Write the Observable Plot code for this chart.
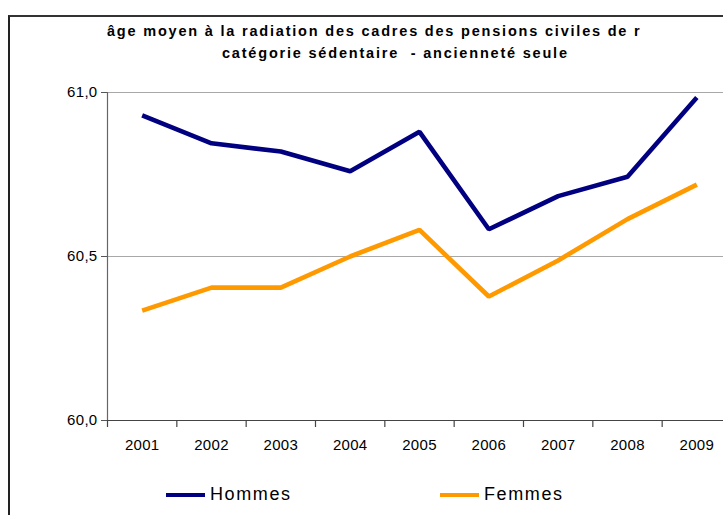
<!DOCTYPE html>
<html>
<head>
<meta charset="utf-8">
<script src="https://cdn.jsdelivr.net/npm/d3@7"></script>
<script src="https://cdn.jsdelivr.net/npm/@observablehq/plot@0.6"></script>
<style>
  html, body { margin: 0; padding: 0; background: #fff; overflow: hidden; }
  #wrap { position: relative; width: 723px; height: 515px; overflow: hidden; font-family: "Liberation Sans", Arial, sans-serif; }
  #frame { position: absolute; left: 8px; top: 15px; width: 900px; height: 700px; border-left: 2px solid #222; border-top: 2px solid #333; }
  .title { position: absolute; font-weight: bold; font-size: 14.5px; letter-spacing: 1.8px; white-space: pre; color: #000; }
  #chart { position: absolute; left: 0; top: 0; }
  .leg { position: absolute; top: 484px; font-size: 18px; letter-spacing: 1.6px; color: #000; display: flex; align-items: center; }
  .leg span.sw { display: inline-block; width: 39px; height: 4px; margin-right: 5px; }
</style>
</head>
<body>
<div id="wrap">
  <div id="frame"></div>
  <div id="chart"></div>
  <div class="title" id="t1" style="left:107px; top:23px;"></div>
  <div class="title" id="t2" style="left:222px; top:45px;"></div>
  <div id="legend"></div>
</div>
<script>
const titleLines = ["âge moyen à la radiation des cadres des pensions civiles de r", "catégorie sédentaire  - ancienneté seule"];
const years = [2001, 2002, 2003, 2004, 2005, 2006, 2007, 2008, 2009];
const hommes = [60.93, 60.845, 60.82, 60.76, 60.88, 60.583, 60.684, 60.743, 60.985];
const femmes = [60.335, 60.405, 60.405, 60.50, 60.581, 60.378, 60.488, 60.614, 60.719];
const seriesNames = ["Hommes", "Femmes"];
const seriesColors = ["#000080", "#FF9900"];
const yTicks = [60, 60.5, 61];

document.getElementById("t1").textContent = titleLines[0];
document.getElementById("t2").textContent = titleLines[1];

const data = [];
years.forEach((y, i) => {
  data.push({year: y, value: hommes[i], series: seriesNames[0]});
  data.push({year: y, value: femmes[i], series: seriesNames[1]});
});
const x0 = years[0] - 0.5, x1 = years[years.length - 1] + 0.5;
const bounds = d3.range(x0, x1 + 0.01, 1);

const chart = Plot.plot({
  width: 723,
  height: 460,
  marginTop: 92,
  marginBottom: 40,
  marginLeft: 107,
  marginRight: 0,
  style: {fontFamily: "'Liberation Sans', Arial, sans-serif", fontSize: "15px", letterSpacing: "0.3px", color: "#000", background: "transparent"},
  x: {type: "linear", domain: [x0, x1], range: [107, 731], label: null},
  y: {type: "linear", domain: [60, 61], label: null},
  color: {domain: seriesNames, range: seriesColors},
  marks: [
    Plot.ruleY(yTicks.filter(d => d > 60), {x1: x0, x2: x1, stroke: "#a8a8a8", strokeWidth: 1.2}),
    Plot.axisY(yTicks, {tickSize: 6, tickPadding: 4, stroke: "#555", tickFormat: d => d.toFixed(1).replace(".", ","), fill: "#000", fontSize: 15, label: null}),
    Plot.ruleX([x0], {y1: 60, y2: 61, stroke: "#666", strokeWidth: 1.2}),
    Plot.ruleY([60], {x1: x0, x2: x1, stroke: "#444", strokeWidth: 1.2}),
    Plot.axisX(bounds, {tickSize: 7, text: null, stroke: "#444", strokeWidth: 1.2, label: null}),
    Plot.axisX(years, {tickSize: 0, tickPadding: 19, tickFormat: d => String(d), fill: "#000", fontSize: 15, label: null}),
    Plot.line(data, {x: "year", y: "value", z: "series", stroke: "series", strokeWidth: 4.6, strokeLinejoin: "miter", strokeLinecap: "butt"})
  ]
});
document.getElementById("chart").appendChild(chart);

const legend = document.getElementById("legend");
const legX = [166, 440];
seriesNames.forEach((n, i) => {
  const d = document.createElement("div");
  d.className = "leg";
  d.style.left = legX[i] + "px";
  const sw = document.createElement("span");
  sw.className = "sw";
  sw.style.background = seriesColors[i];
  d.appendChild(sw);
  const t = document.createElement("span");
  t.textContent = n;
  d.appendChild(t);
  legend.appendChild(d);
});
</script>
</body>
</html>
